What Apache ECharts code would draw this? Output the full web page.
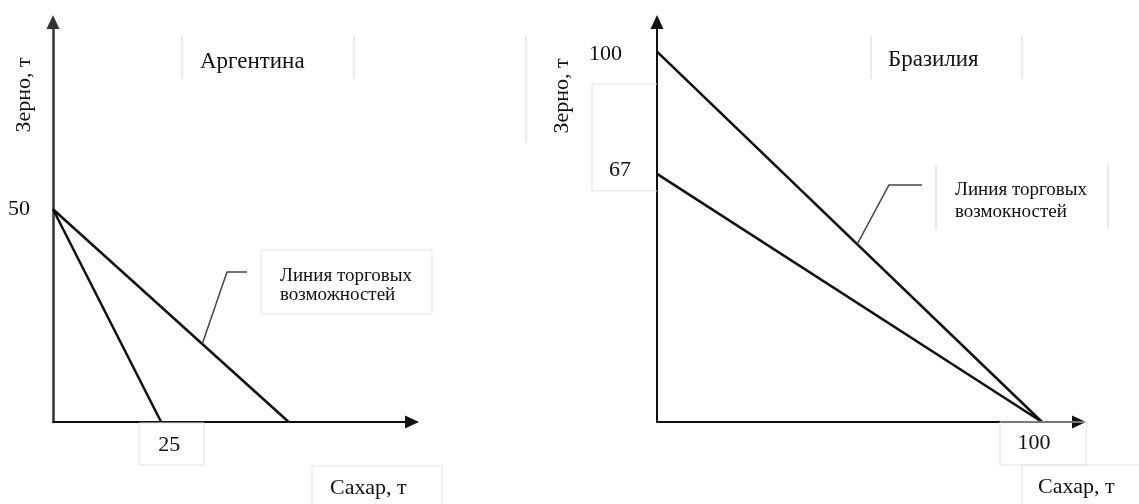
<!DOCTYPE html>
<html>
<head>
<meta charset="utf-8">
<script src="https://cdn.jsdelivr.net/npm/echarts@6/dist/echarts.min.js"></script>
<style>
  html, body { margin: 0; padding: 0; background: #fff; }
  #chart { width: 1139px; height: 504px; }
</style>
</head>
<body>
<div id="chart"></div>
<script>
// Argentina: production possibilities and trade line (grain vs sugar, t)
const argPPF = [[0, 50], [25, 0]];
const argTrade = [[0, 50], [54.5, 0]];
const argXTicks = [25];
const argYTicks = [50];

// Brazil
const brPPF = [[0, 67], [100, 0]];
const brTrade = [[0, 100], [100, 0]];
const brXTicks = [100];
const brYTicks = [100, 67];

const titles = ['Аргентина', 'Бразилия'];
const xName = 'Сахар, т';
const yName = 'Зерно, т';
const calloutText = ['Линия торговых\nвозможностей', 'Линия торговых\nвозмокностей'];

const FONT = '"Liberation Serif", "Times New Roman", serif';
const INK = '#111';
const BOX = '#e2e2e2';

const chart = echarts.init(document.getElementById('chart'), null, { renderer: 'canvas' });

function axisCommon(extra) {
  return Object.assign({
    type: 'value',
    min: 0,
    axisLine: {
      show: true,
      symbol: ['none', 'triangle'],
      symbolSize: [13, 14],
      lineStyle: { color: INK, width: 2 }
    },
    axisTick: { show: false },
    axisLabel: { show: false },
    splitLine: { show: false }
  }, extra);
}

function lineSeries(data, gi) {
  return {
    type: 'line',
    data: data,
    xAxisIndex: gi,
    yAxisIndex: gi,
    symbol: 'none',
    silent: true,
    lineStyle: { color: INK, width: 2.5 }
  };
}

chart.setOption({
  animation: false,
  grid: [
    { left: 53, top: 22, width: 359, height: 400 },
    { left: 657, top: 22, width: 422, height: 400 }
  ],
  xAxis: [
    axisCommon({ gridIndex: 0, max: 83 }),
    axisCommon({ gridIndex: 1, max: 109.6 })
  ],
  yAxis: [
    axisCommon({ gridIndex: 0, max: 94, axisLine: {
      show: true, symbol: ['none', 'triangle'], symbolSize: [13, 14],
      lineStyle: { color: '#333', width: 2.5 } } }),
    axisCommon({ gridIndex: 1, max: 108 })
  ],
  series: [
    lineSeries(argPPF, 0),
    lineSeries(argTrade, 0),
    lineSeries(brPPF, 1),
    lineSeries(brTrade, 1)
  ]
});

const px = (g, v) => chart.convertToPixel({ gridIndex: g }, v);

function text(x, y, str, opts) {
  opts = opts || {};
  return {
    type: 'text', x: x, y: y, rotation: opts.rotation || 0, z: 10,
    style: {
      text: str, fill: INK,
      font: (opts.size || 22) + 'px ' + FONT,
      align: opts.align || 'left', textAlign: opts.align || 'left',
      verticalAlign: 'middle', textVerticalAlign: 'middle',
      lineHeight: opts.lineHeight
    }
  };
}
function rect(x, y, w, h) {
  return { type: 'rect', z: 5, shape: { x: x, y: y, width: w, height: h },
           style: { fill: 'none', stroke: BOX, lineWidth: 1 } };
}
function vline(x, y1, y2) {
  return { type: 'line', z: 5, shape: { x1: x, y1: y1, x2: x, y2: y2 },
           style: { stroke: BOX, lineWidth: 1.5 } };
}
function leader(points) {
  return { type: 'polyline', z: 8, shape: { points: points },
           style: { stroke: '#444', fill: 'none', lineWidth: 1.5 } };
}
// point along a segment at a given sugar value
function onLine(seg, x) {
  const [a, b] = seg;
  return [x, a[1] + (b[1] - a[1]) * (x - a[0]) / (b[0] - a[0])];
}

const g = [];

// ---- Argentina ----
g.push(vline(182, 36, 79), vline(354, 36, 79));
g.push(text(200, 62, titles[0], { size: 23 }));
g.push(text(24, 95, yName, { rotation: Math.PI / 2, align: 'center' }));
argYTicks.forEach(v => {
  const p = px(0, [0, v]);
  g.push(text(p[0] - 23, p[1], String(v), { align: 'right' }));
});
argXTicks.forEach(v => {
  const p = px(0, [v, 0]);
  g.push(rect(p[0] - 22, p[1] + 1, 65, 42));
  g.push(text(p[0] + 8, p[1] + 23, String(v), { align: 'center' }));
});
g.push(rect(312, 466, 130, 60));
g.push(text(330, 488, xName));
g.push(rect(261, 250, 171, 64));
g.push(text(280, 286, calloutText[0], { size: 19, lineHeight: 19 }));
g.push(leader([[247, 272], [227, 272], px(0, onLine(argTrade, 34.5))]));

// ---- Brazil ----
g.push(vline(871, 36, 79), vline(1022, 36, 79));
g.push(text(888, 60, titles[1], { size: 23 }));
g.push(vline(526, 36, 143));
g.push(text(562, 96, yName, { rotation: Math.PI / 2, align: 'center' }));
{
  const p100 = px(1, [0, brYTicks[0]]);
  g.push(text(p100[0] - 35, p100[1] + 3, String(brYTicks[0]), { align: 'right' }));
  const p67 = px(1, [0, brYTicks[1]]);
  g.push({ type: 'polyline', z: 5,
           shape: { points: [[p67[0], p67[1] - 90], [p67[0] - 65, p67[1] - 90],
                             [p67[0] - 65, p67[1] + 17], [p67[0], p67[1] + 17]] },
           style: { stroke: BOX, fill: 'none', lineWidth: 1 } });
  g.push(text(p67[0] - 26, p67[1] - 4, String(brYTicks[1]), { align: 'right' }));
}
brXTicks.forEach(v => {
  const p = px(1, [v, 0]);
  g.push(rect(p[0] - 42, p[1], 86, 43));
  g.push(text(p[0] - 8, p[1] + 21, String(v), { align: 'center' }));
});
g.push(rect(1022, 465, 140, 60));
g.push(text(1038, 487, xName));
g.push(vline(936, 165, 229), vline(1108, 165, 229));
g.push(text(955, 201, calloutText[1], { size: 19, lineHeight: 22 }));
g.push(leader([[922, 185], [889, 185], px(1, onLine(brTrade, 52))]));

chart.setOption({ graphic: g });
</script>
</body>
</html>
